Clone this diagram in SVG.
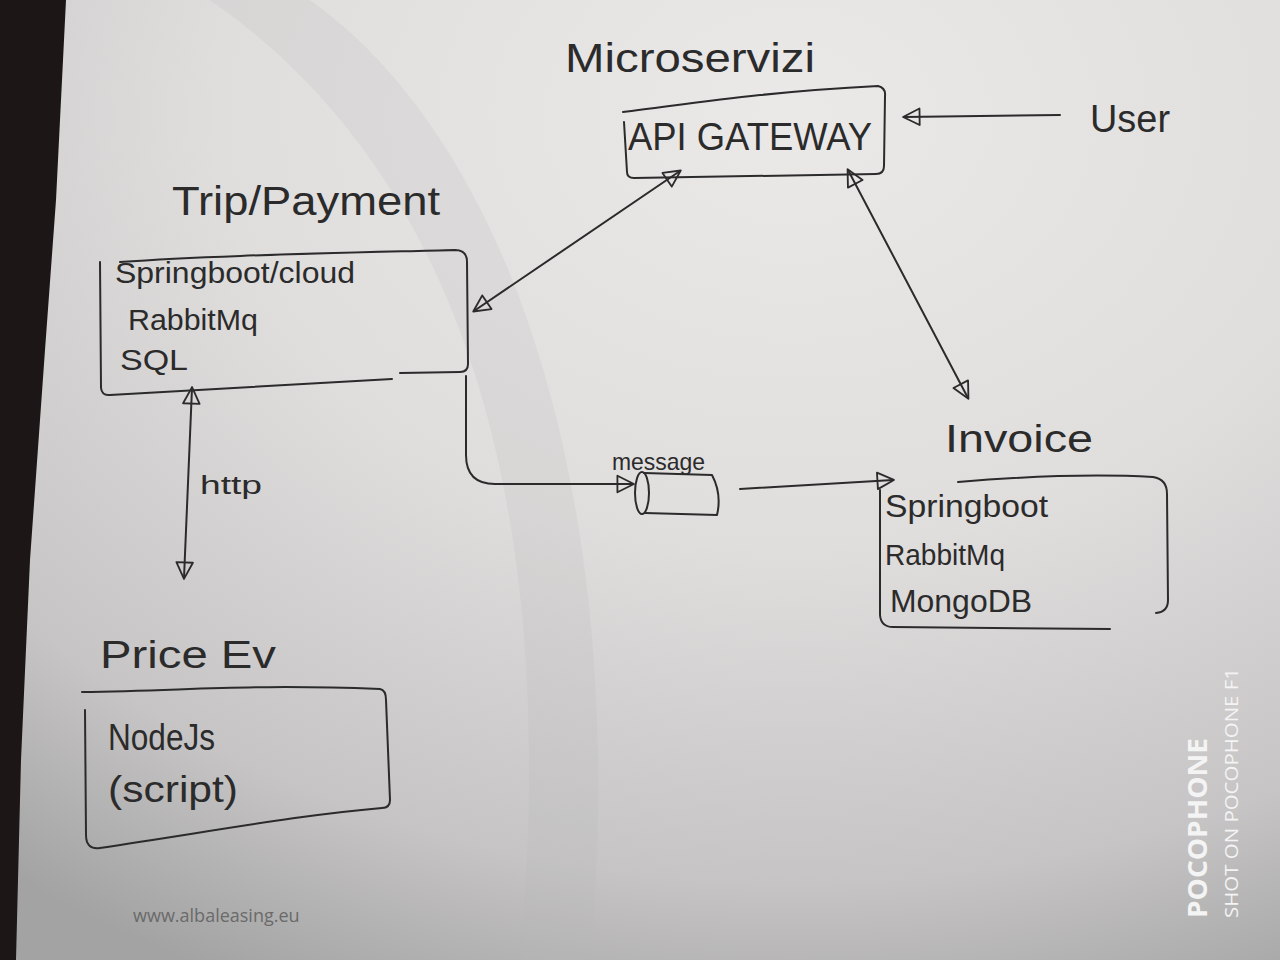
<svg xmlns="http://www.w3.org/2000/svg" width="1280" height="960" viewBox="0 0 1280 960">
<defs>
<radialGradient id="paper" cx="0.62" cy="0.12" r="1.0">
<stop offset="0" stop-color="#ebe8e8"/>
<stop offset="0.45" stop-color="#e0dddd"/>
<stop offset="0.8" stop-color="#c6c4c4"/>
<stop offset="1" stop-color="#a3a3a3"/>
</radialGradient>
<marker id="tri" viewBox="0 0 24 24" refX="20" refY="12" markerWidth="22" markerHeight="22" markerUnits="userSpaceOnUse" orient="auto-start-reverse">
<path d="M3,3 L21,12 L3,21 Z" fill="none" stroke="#2b2b2b" stroke-width="2" stroke-linejoin="round"/>
</marker>
<style>
.ink{fill:none;stroke:#2b2b2b;stroke-width:2;stroke-linecap:round;stroke-linejoin:round}
.hand{font-family:"Liberation Sans","DejaVu Sans",sans-serif;fill:#2b2b2b}
.wm{font-family:"Open Sans","Liberation Sans",sans-serif}
</style>
</defs>

<rect x="0" y="0" width="1280" height="960" fill="url(#paper)"/>
<path d="M210,0 C470,180 560,520 520,960 L590,960 C630,520 520,150 310,0 Z" fill="#b8b8b8" opacity="0.2"/>
<path d="M0,0 L66,0 L56,200 L45,350 L30,560 L21,760 L16,960 L0,960 Z" fill="#1c1616"/>

<text class="hand" x="565" y="72" font-size="40" textLength="250" lengthAdjust="spacingAndGlyphs">Microservizi</text>

<g id="api-gateway">
<path class="ink" d="M623,112 C690,104 760,92 878,86 Q886,88 885,96 L884,166 Q884,174 876,174 L634,178 Q627,178 627,172 L624,122"/>
<text class="hand" x="628" y="150" font-size="38" textLength="244" lengthAdjust="spacingAndGlyphs">API GATEWAY</text>
</g>

<g id="user">
<text class="hand" x="1090" y="132" font-size="38" textLength="80" lengthAdjust="spacingAndGlyphs">User</text>
</g>

<g id="trip-payment">
<text class="hand" x="172" y="215" font-size="40" textLength="268" lengthAdjust="spacingAndGlyphs">Trip/Payment</text>
<path class="ink" d="M120,262 C200,256 300,254 455,250 Q467,250 467,262 L468,364 Q468,372 460,372 L400,373"/>
<path class="ink" d="M100,262 L101,388 Q102,396 110,395 L392,379"/>
<text class="hand" x="115" y="283" font-size="30" textLength="240" lengthAdjust="spacingAndGlyphs">Springboot/cloud</text>
<text class="hand" x="128" y="330" font-size="30" textLength="130" lengthAdjust="spacingAndGlyphs">RabbitMq</text>
<text class="hand" x="120" y="370" font-size="30" textLength="68" lengthAdjust="spacingAndGlyphs">SQL</text>
</g>

<g id="message">
<text class="hand" x="612" y="470" font-size="24" textLength="93" lengthAdjust="spacingAndGlyphs">message</text>
<ellipse class="ink" cx="642" cy="493" rx="7" ry="21"/>
<path class="ink" d="M644,473 L712,475 Q722,494 717,515 L645,513"/>
</g>

<g id="invoice">
<text class="hand" x="945" y="452" font-size="38" textLength="148" lengthAdjust="spacingAndGlyphs">Invoice</text>
<path class="ink" d="M958,482 C1030,476 1100,474 1153,477 Q1167,479 1167,494 L1168,600 Q1168,612 1156,613"/>
<path class="ink" d="M880,490 L880,615 Q881,627 893,627 L1110,629"/>
<text class="hand" x="885" y="517" font-size="32" textLength="163" lengthAdjust="spacingAndGlyphs">Springboot</text>
<text class="hand" x="885" y="565" font-size="30" textLength="120" lengthAdjust="spacingAndGlyphs">RabbitMq</text>
<text class="hand" x="890" y="612" font-size="32" textLength="142" lengthAdjust="spacingAndGlyphs">MongoDB</text>
</g>

<g id="price-ev">
<text class="hand" x="100" y="668" font-size="38" textLength="176" lengthAdjust="spacingAndGlyphs">Price Ev</text>
<path class="ink" d="M82,692 C200,690 250,684 380,689 Q386,690 386,700 L390,800 Q390,808 382,808 C300,815 220,830 100,848 Q86,850 86,835 L85,710"/>
<text class="hand" x="108" y="750" font-size="36" textLength="107" lengthAdjust="spacingAndGlyphs">NodeJs</text>
<text class="hand" x="108" y="802" font-size="36" textLength="130" lengthAdjust="spacingAndGlyphs">(script)</text>
</g>

<g id="connectors">
<path class="ink" d="M1060,115 L904,117" marker-end="url(#tri)"/>
<path class="ink" d="M474,311 L680,171" marker-start="url(#tri)" marker-end="url(#tri)"/>
<path class="ink" d="M848,170 L968,398" marker-start="url(#tri)" marker-end="url(#tri)"/>
<path class="ink" d="M466,376 L466,455 Q466,484 495,484 L633,484" marker-end="url(#tri)"/>
<path class="ink" d="M740,489 L893,480" marker-end="url(#tri)"/>
<path class="ink" d="M192,388 L184,578" marker-start="url(#tri)" marker-end="url(#tri)"/>
<text class="hand" x="200" y="494" font-size="26" textLength="62" lengthAdjust="spacingAndGlyphs">http</text>
</g>

<text class="wm" x="133" y="922" font-size="18" fill="#6a6a6a">www.albaleasing.eu</text>
<text class="wm" transform="translate(1207,918) rotate(-90)" font-size="27" font-weight="bold" fill="#f4f4f4" textLength="180" lengthAdjust="spacingAndGlyphs">POCOPHONE</text>
<text class="wm" transform="translate(1238,918) rotate(-90)" font-size="18" fill="#f4f4f4" textLength="250" lengthAdjust="spacingAndGlyphs">SHOT ON POCOPHONE F1</text>
</svg>
